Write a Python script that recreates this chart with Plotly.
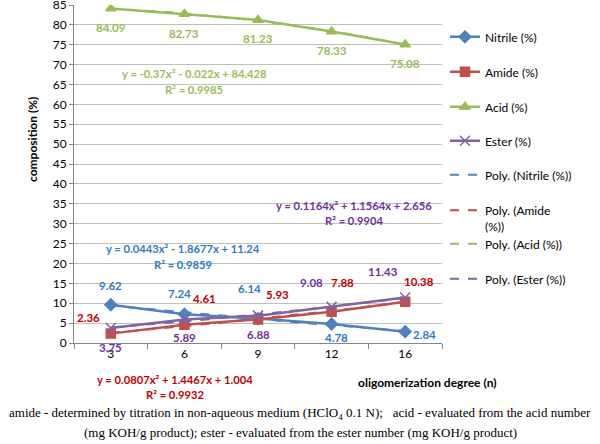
import numpy as np
import plotly.graph_objects as go

categories = ["3", "6", "9", "12", "16"]
idx = [1, 2, 3, 4, 5]
nitrile = [9.62, 7.24, 6.14, 4.78, 2.84]
amide = [2.36, 4.61, 5.93, 7.88, 10.38]
acid = [84.09, 82.73, 81.23, 78.33, 75.08]
ester = [3.75, 5.89, 6.88, 9.08, 11.43]
y_ticks = list(range(0, 90, 5))

series = [
    ("Nitrile (%)", nitrile, "#4F81BD", "diamond", "#2E7BC4"),
    ("Amide (%)", amide, "#C0504D", "square", "#C00000"),
    ("Acid (%)", acid, "#9BBB59", "triangle-up", "#9BBB59"),
    ("Ester (%)", ester, "#8064A2", "x-thin-open", "#7030A0"),
]
poly_names = ["Poly. (Nitrile (%))", "Poly. (Amide<br>(%))", "Poly. (Acid (%))", "Poly. (Ester (%))"]
eq_text = [
    ("y = 0.0443x² - 1.8677x + 11.24", "R² = 0.9859"),
    ("y = 0.0807x² + 1.4467x + 1.004", "R² = 0.9932"),
    ("y = -0.37x² - 0.022x + 84.428", "R² = 0.9985"),
    ("y = 0.1164x² + 1.1564x + 2.656", "R² = 0.9904"),
]

# plot area in px
L, R, T, B = 74, 442, 5, 343
def px(xp, yp):
    return (xp - L) / (R - L), (B - yp) / (B - T)

# styling: label offsets (dx, dy) in px, for each series/point
label_offsets = [
    [(0, 19), (-5, 21), (-9, 30), (5, -14), (19, -3)],
    [(-22, 16), (20, 26), (19, 25), (11, 29), (14, 20)],
    [(0, -19), (0, -19), (0, -19), (0, -19), (0, -19)],
    [(0, -19), (0, -18), (0, -19), (-20, 24), (-22, 26)],
]
eq_pos = [(183, 248), (175, 379), (194, 73), (354, 205)]
legend_y = [37, 72, 107, 141, 175, 210, 244, 279]

fig = go.Figure()
font_family = "Lato, 'Open Sans', sans-serif"
xs = np.linspace(1, 5, 60)

for i, (name, vals, col, sym, lcol) in enumerate(series):
    msize = 9 if sym != "x-thin-open" else 10
    fig.add_trace(go.Scatter(
        x=idx, y=vals, mode="lines+markers", name=name,
        line=dict(color=col, width=2.5),
        marker=dict(symbol=sym, size=msize, color=col, line=dict(color=col, width=1.5)),
        legend="legend" if i == 0 else f"legend{i+1}",
    ))

for i, (name, vals, col, sym, lcol) in enumerate(series):
    coef = np.polyfit(idx, vals, 2)
    fig.add_trace(go.Scatter(
        x=xs, y=np.polyval(coef, xs), mode="lines", name=poly_names[i],
        line=dict(color=col, width=2, dash="dash"),
        legend=f"legend{i+5}",
    ))

def ann(xp, yp, text, font, **kw):
    a, b = px(xp, yp)
    d = dict(x=a, y=b, xref="paper", yref="paper", text=text, showarrow=False,
             xanchor="center", yanchor="middle", font=font)
    d.update(kw)
    return d

annotations = []
for i, (name, vals, col, sym, lcol) in enumerate(series):
    for j, v in enumerate(vals):
        dx, dy = label_offsets[i][j]
        annotations.append(dict(
            x=idx[j], y=v, xref="x", yref="y", text=f"<b>{v:.2f}</b>", showarrow=False,
            xanchor="center", yanchor="middle",
            xshift=dx, yshift=dy, font=dict(family=font_family, size=11.5, color=lcol)))
    ex, ey = eq_pos[i]
    eqf = dict(family=font_family, size=11.2, color=lcol)
    annotations.append(ann(ex, ey, f"<b>{eq_text[i][0]}</b>", eqf))
    annotations.append(ann(ex, ey + 16, f"<b>{eq_text[i][1]}</b>", eqf))

annotations.append(ann(427, 382, "<b>oligomerization degree (n)</b>",
                       dict(family=font_family, size=12, color="black")))
annotations.append(ann(32, 140, "<b>composition (%)</b>",
                       dict(family=font_family, size=12, color="black"), textangle=-90))
serif = "'Liberation Serif', 'Times New Roman', serif"
annotations.append(ann(300, 413,
                       "amide - determined by titration in non-aqueous medium (HClO<sub>4</sub> 0.1 N);   acid - evaluated from the acid number",
                       dict(family=serif, size=13, color="black")))
annotations.append(ann(300, 432,
                       "(mg KOH/g product); ester - evaluated from the ester number (mg KOH/g product)",
                       dict(family=serif, size=13, color="black")))

layout_legends = {}
for k, ly in enumerate(legend_y):
    key = "legend" if k == 0 else f"legend{k+1}"
    lx, lyp = px(445, ly)
    layout_legends[key] = dict(
        x=lx, y=lyp, xanchor="left", yanchor="middle",
        bgcolor="rgba(0,0,0,0)", borderwidth=0, valign="top",
        font=dict(family=font_family, size=12, color="black"),
    )
# the two-line entry: anchor its top so the first line sits at legend_y
lx, lyp = px(445, legend_y[5] - 14)
layout_legends["legend6"]["y"] = lyp
layout_legends["legend6"]["yanchor"] = "top"

fig.update_layout(
    width=600, height=444,
    margin=dict(l=L, r=600 - R, t=T, b=444 - B, autoexpand=False),
    paper_bgcolor="white", plot_bgcolor="white",
    showlegend=True,
    annotations=annotations,
    xaxis=dict(
        range=[0.5, 5.5], tickvals=idx, ticktext=categories, ticks="",
        showgrid=False, zeroline=False, showline=True, linecolor="#868686", linewidth=1,
        tickfont=dict(family=font_family, size=12, color="black"), automargin=False,
        minor=dict(tickmode="linear", tick0=0.5, dtick=1, ticks="outside", ticklen=5,
                   tickcolor="#868686", showgrid=False),
    ),
    yaxis=dict(
        range=[0, 85], tickvals=y_ticks, showgrid=True, gridcolor="#BFBFBF", gridwidth=1,
        zeroline=False, showline=True, linecolor="#868686", linewidth=1,
        ticks="outside", ticklen=4, tickcolor="#868686", automargin=False,
        ticklabeloverflow="allow",
        tickfont=dict(family=font_family, size=12, color="black"),
    ),
    **layout_legends,
)

fig.write_html("out.html", config={"displayModeBar": False},
               post_script="document.body.style.margin='0';document.body.style.overflow='hidden';")
